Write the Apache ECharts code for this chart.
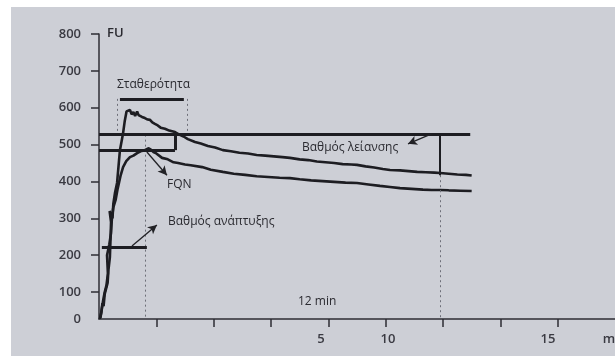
<!DOCTYPE html>
<html>
<head>
<meta charset="utf-8">
<script src="https://cdn.jsdelivr.net/npm/echarts@6/dist/echarts.min.js"></script>
<style>
  html, body { margin: 0; padding: 0; background: #ffffff; }
  #sheet { position: absolute; left: 11px; top: 7px; width: 604px; height: 349px; background: #cdcfd6; }
  #chart { position: absolute; left: 0; top: 0; width: 615px; height: 356px; }
</style>
</head>
<body>
<div id="sheet"></div>
<div id="chart"></div>
<script>
// Farinograph curve: consistency (FU) against mixing time (min)

// upper trace
const upperMin = [0.03,0.08,0.12,0.16,0.2,0.25,0.3,0.33,0.38,0.4,0.42,0.37,0.47,0.5,0.56,0.63,0.68,0.73,0.79,0.84,0.9,0.96,1.01,1.08,1.14,1.2,1.26,1.33,1.38,1.43,1.5,1.55,1.6,1.7,1.78,1.86,1.95,2.05,2.15,2.3,2.45,2.65,2.8,2.95,3.1,3.35,3.55,3.8,4.05,4.32,4.6,4.9,5.2,5.5,5.8,6.1,6.4,6.66,7.0,7.3,7.6,7.9,8.2,8.5,8.8,9.0,9.3,9.6,9.9,10.15,10.5,10.8,11.1,11.4,11.7,11.9,12.2,12.5,12.8,13.0];
const upperFU = [27,45,70,62,95,110,125,160,195,240,290,320,300,340,370,396,440,485,510,531,565,590,586,594,582,588,578,590,580,583,575,580,572,568,567,560,556,552,546,543,538,534,527,522,515,507,503,496,492,485,482,478,476,472,470,468,466,464,460,458,454,452,450,447,446,445,441,438,434,431,430,428,426,425,424,423,421,419,418,416];

// lower trace
const lowerMin = [0.05,0.1,0.15,0.2,0.26,0.31,0.28,0.36,0.42,0.45,0.5,0.58,0.65,0.75,0.84,0.95,1.08,1.2,1.33,1.45,1.6,1.72,1.8,1.9,2.0,2.2,2.4,2.6,2.76,3.0,3.2,3.6,3.9,4.32,4.7,5.1,5.5,5.9,6.3,6.66,7.0,7.4,7.8,8.2,8.6,9.0,9.4,9.8,10.15,10.5,10.9,11.3,11.6,11.9,12.2,12.6,13.0];
const lowerFU = [30,55,80,100,118,150,200,230,260,300,330,350,380,415,439,455,466,470,477,482,485,490,487,480,476,464,460,452,450,446,444,439,432,426,421,418,414,412,410,409,406,403,401,399,397,396,392,388,385,382,380,378,377,377,376,375,374];

// reading guides
const stabilityFU = 624, stabilityFrom = 0.73, stabilityTo = 2.96;
const arrivalMin = 0.63, departureMin = 3.07;
const bandFU = 527, bandTo = 12.95;
const lowerBandFU = 485, boxTo = 2.65;
const peakMin = 1.6;
const developmentFU = 222, developmentFrom = 0.1, developmentTo = 1.67;
const softeningMin = 11.9, softeningEndFU = 417;
const baseFU = 27;

// pointer arrows: [fromMin, fromFU, toMin, toFU]
const devArrow = [1.15, 225, 2.02, 282];
const fqnArrow = [1.67, 480, 2.37, 417];
const softArrow = [11.6, 529, 10.78, 502];

// axis ticks and labels
const xTickMin = [2,4,6,8,10,12,14,16];
const xLabelAt = [7.74, 10.08, 15.66, 18];
const xLabelText = ['5', '10', '15', 'min'];
const yTickFU = [100,200,300,400,500,600,700,800];
const yLabelAt = [27,100,200,300,400,500,600,700,800];
const yLabelText = ['0','100','200','300','400','500','600','700','800'];

const zip = (a, b) => a.map((v, i) => [v, b[i]]);
const ink = '#1d1d22';
const axisInk = '#2e2e34';
const textInk = '#2a2a30';
const solid = { color: ink, width: 3, type: 'solid' };
const dotted = { color: '#6d6f78', width: 1, type: [2, 3] };
const arrowStyle = { color: '#222226', width: 1.3, type: 'solid' };

const seg = (a, b, style) => [{ coord: a, symbol: 'none', lineStyle: style }, { coord: b, symbol: 'none' }];
const arrow = (p) => [{ coord: [p[0], p[1]], symbol: 'none', lineStyle: arrowStyle }, { coord: [p[2], p[3]], symbol: 'arrow', symbolSize: [7, 9] }];

const chart = echarts.init(document.getElementById('chart'), null, { renderer: 'canvas' });
const labelFont = { fontFamily: 'Open Sans', fontWeight: 600, fontSize: 13, color: '#3a3a42' };

chart.setOption({
  animation: false,
  backgroundColor: 'transparent',
  grid: { left: 99, right: 0, top: 34, bottom: 37, containLabel: false, outerBoundsMode: 'none' },
  xAxis: {
    type: 'value', min: 0, max: 18,
    splitLine: { show: false },
    axisLine: { show: true, lineStyle: { color: axisInk, width: 1.5 } },
    axisTick: { show: true, length: 8, customValues: xTickMin, lineStyle: { color: axisInk, width: 1.5 } },
    axisLabel: Object.assign({
      margin: 14, customValues: xLabelAt, hideOverlap: false,
      formatter: (v) => xLabelText[xLabelAt.indexOf(v)]
    }, labelFont)
  },
  yAxis: {
    type: 'value', min: baseFU, max: 800,
    splitLine: { show: false },
    axisLine: { show: true, lineStyle: { color: axisInk, width: 1.5 } },
    axisTick: { show: true, length: 8, customValues: yTickFU, lineStyle: { color: axisInk, width: 1.5 } },
    axisLabel: Object.assign({
      margin: 18, customValues: yLabelAt,
      formatter: (v) => yLabelText[yLabelAt.indexOf(v)]
    }, labelFont)
  },
  series: [
    {
      name: 'upper', type: 'line', showSymbol: false, smooth: false,
      lineStyle: { color: ink, width: 2.6 },
      data: zip(upperMin, upperFU),
      z: 3
    },
    {
      name: 'lower', type: 'line', showSymbol: false, smooth: false,
      lineStyle: { color: ink, width: 2.6 },
      data: zip(lowerMin, lowerFU),
      z: 3,
      markLine: {
        silent: true, animation: false,
        label: { show: false },
        symbol: ['none', 'none'],
        data: [
          seg([stabilityFrom, stabilityFU], [stabilityTo, stabilityFU], solid),
          seg([arrivalMin, stabilityFU], [arrivalMin, bandFU], dotted),
          seg([departureMin, stabilityFU], [departureMin, bandFU], dotted),
          seg([peakMin, bandFU], [peakMin, baseFU], dotted),
          seg([softeningMin, softeningEndFU], [softeningMin, baseFU], dotted),
          seg([0, bandFU], [bandTo, bandFU], solid),
          seg([0, lowerBandFU], [boxTo, lowerBandFU], solid),
          seg([boxTo, lowerBandFU], [boxTo, bandFU], solid),
          seg([developmentFrom, developmentFU], [developmentTo, developmentFU], solid),
          seg([softeningMin, bandFU], [softeningMin, softeningEndFU], { color: ink, width: 2, type: 'solid' }),
          arrow(devArrow),
          arrow(fqnArrow),
          arrow(softArrow)
        ]
      }
    }
  ],
  graphic: [
    { type: 'text', style: { text: 'FU', x: 107, y: 33, verticalAlign: 'middle', fill: textInk, font: '600 13px "Open Sans"' } },
    { type: 'text', style: { text: 'Σταθερότητα', x: 117, y: 85, verticalAlign: 'middle', fill: textInk, font: '500 12px "Open Sans"' } },
    { type: 'text', style: { text: 'FQN', x: 167, y: 185, verticalAlign: 'middle', fill: textInk, font: '500 12px "Open Sans"' } },
    { type: 'text', style: { text: 'Βαθμός ανάπτυξης', x: 168, y: 222, verticalAlign: 'middle', fill: textInk, font: '500 12px "Open Sans"' } },
    { type: 'text', style: { text: 'Βαθμός λείανσης', x: 302, y: 148, verticalAlign: 'middle', fill: textInk, font: '500 12px "Open Sans"' } },
    { type: 'text', style: { text: '12 min', x: 298, y: 302, verticalAlign: 'middle', fill: textInk, font: '500 12px "Open Sans"' } }
  ]
});
</script>
</body>
</html>
